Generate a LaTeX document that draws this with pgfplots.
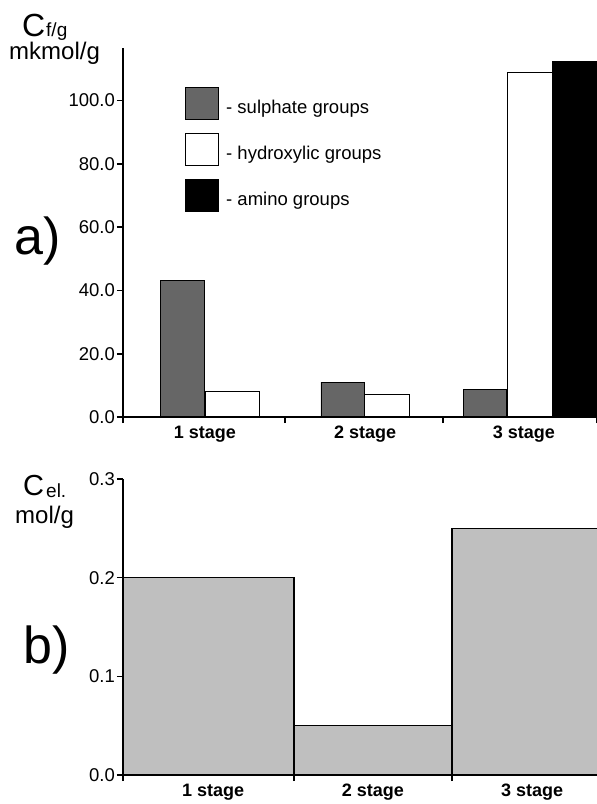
\documentclass[border=0pt]{standalone}
\usepackage{fontspec}
\setmainfont{Liberation Sans}
\usepackage{pgfplots}
\pgfplotsset{compat=1.18}
\newcommand{\fs}[1]{\fontsize{#1bp}{#1bp}\selectfont}

\pgfplotsset{
  panel/.style={scale only axis, width=474bp, xmin=0, xmax=3, ymin=0,
    axis on top,
    axis x line*=bottom, axis y line*=left,
    axis line style={line width=2bp},
    tick align=outside, major tick length=6bp,
    tick style={line width=1.6bp, black},
    /pgf/number format/assume math mode=true,
    yticklabel style={font=\fs{18.5}, inner sep=2bp,
      /pgf/number format/.cd, fixed, fixed zerofill, precision=1},
    xticklabels={},
    extra x tick style={major tick length=0pt,
      xticklabel style={font=\bfseries\fs{18}, inner sep=0pt, anchor=north, yshift=-9bp}}},
  legbox/.style={legend image code/.code={%
      \draw[##1, line width=0.9bp] (0bp,-12bp) rectangle (33bp,20bp);}}
}

\begin{document}
\begin{tikzpicture}
% a) functional groups
\begin{axis}[panel, height=369bp, ymax=116.6, ytick={0,20,...,100},
  xtick={0,1.025,2.025,3},
  extra x ticks={0.519,1.532,2.538},
  extra x tick labels={1 stage,2 stage,3 stage},
  legend style={at={(0.131,0.894)}, anchor=north west, draw=none, fill=none,
    inner sep=0pt, row sep=13bp, column sep=7bp, font=\fs{18.5},
    nodes={inner sep=0pt}},
  legend cell align=left]
\addplot[ybar, bar shift=0pt, bar width=0.278, fill=black!60, draw=black,
  line width=0.9bp, legbox] coordinates {(0.377,43.0) (1.392,11.0) (2.291,8.8)};
\addlegendentry{- sulphate groups}
\addplot[ybar, bar shift=0pt, bar width=0.285, fill=white, draw=black,
  line width=0.9bp, legbox] coordinates {(1.671,7.0) (2.576,109.0)};
\addlegendentry{- hydroxylic groups}
\addplot[ybar, bar shift=0pt, bar width=0.28, fill=black, draw=black,
  line width=0.9bp, legbox] coordinates {(2.861,112.2)};
\addlegendentry{- amino groups}
\addplot[ybar, bar shift=0pt, bar width=0.342, fill=white, draw=black,
  line width=0.9bp, forget plot] coordinates {(0.690,8.2)};
\end{axis}

% b) electrolyte
\begin{axis}[panel, at={(0bp,-358bp)}, height=296bp, ymax=0.3,
  ytick={0,0.1,0.2,0.3},
  xtick={0,1.082,2.082},
  extra x ticks={0.57,1.582,2.589},
  extra x tick labels={1 stage,2 stage,3 stage}]
\addplot[ybar interval, fill=black!25, draw=black, line width=1.4bp]
  coordinates {(0,0.2) (1.082,0.05) (2.082,0.25) (3.3,0.25)};
\end{axis}

\node[anchor=base west, inner sep=0pt, font=\fs{32}] at (-101bp,380bp) {C};
\node[anchor=base west, inner sep=0pt, font=\fs{19}] at (-77bp,380bp) {f/g};
\node[anchor=base west, inner sep=0pt, font=\fs{24}] at (-114bp,357bp) {mkmol/g};
\node[anchor=base west, inner sep=0pt, font=\fs{52}] at (-109bp,162bp) {a)};

\node[anchor=base west, inner sep=0pt, font=\fs{29}] at (-100bp,-78bp) {C};
\node[anchor=base west, inner sep=0pt, font=\fs{19}] at (-77bp,-80bp) {el.};
\node[anchor=base west, inner sep=0pt, font=\fs{24}] at (-108bp,-106bp) {mol/g};
\node[anchor=base west, inner sep=0pt, font=\fs{52}] at (-100bp,-246bp) {b)};

\pgfresetboundingbox
\useasboundingbox (-123bp,-387bp) rectangle (474bp,417bp);
\end{tikzpicture}
\end{document}
